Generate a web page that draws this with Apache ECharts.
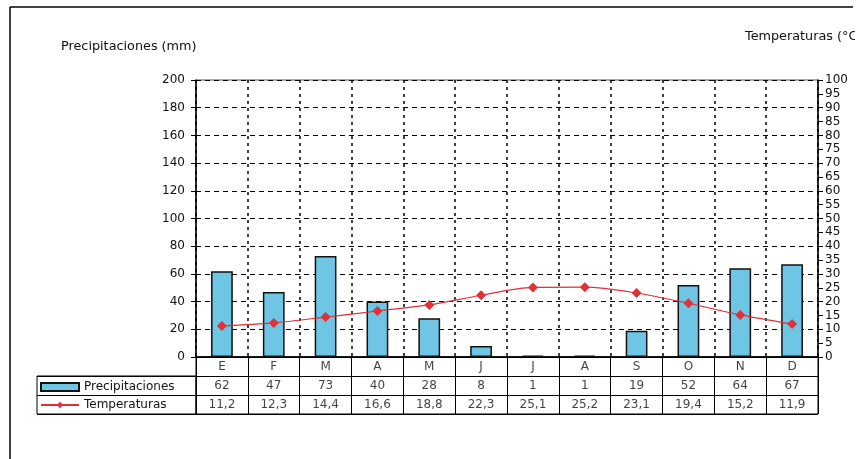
<!DOCTYPE html>
<html><head><meta charset="utf-8">
<script src="https://cdn.jsdelivr.net/npm/echarts@6/dist/echarts.min.js"></script>
<style>html,body{margin:0;padding:0;background:#fff}#c{width:867px;height:459px}</style>
</head><body><div id="c"></div>
<script>
var months = ['E','F','M','A','M','J','J','A','S','O','N','D'];
var precip = [62,47,73,40,28,8,1,1,19,52,64,67];
var temps = [11.2,12.3,14.4,16.6,18.8,22.3,25.1,25.2,23.1,19.4,15.2,11.9];
var leftTicks = {min:0, max:200, interval:20};
var rightTicks = {min:0, max:100, interval:5};
var rowNames = ['mes','Precipitaciones','Temperaturas'];

var FONT = 'DejaVu Sans, Verdana, sans-serif';
var cells = [];
months.forEach(function(m,i){ cells.push({value:[i,0], txt:m}); });
precip.forEach(function(v,i){ cells.push({value:[i,1], txt:String(v)}); });
temps.forEach(function(v,i){ cells.push({value:[i,2], txt:v.toFixed(1).replace('.',',')}); });

var chart = echarts.init(document.getElementById('c'));
chart.setOption({
  animation:false,
  backgroundColor:'#fff',
  textStyle:{fontFamily:FONT},
  title:[
    {text:'Precipitaciones (mm)', left:56, top:35, textStyle:{fontSize:12.8, fontWeight:'normal', color:'#111', fontFamily:FONT}},
    {text:'Temperaturas (°C)', left:740, top:25, textStyle:{fontSize:12.8, fontWeight:'normal', color:'#111', fontFamily:FONT}}
  ],
  legend:{
    orient:'vertical', left:35, top:376, itemGap:6, itemWidth:38, itemHeight:8,
    textStyle:{fontSize:12, color:'#111', fontFamily:FONT},
    data:[{name:'Precipitaciones', icon:'rect'},{name:'Temperaturas'}]
  },
  graphic:[
    {type:'rect', shape:{x:855,y:0,width:12,height:459}, style:{fill:'#fff'}, z:100},
    {type:'line', shape:{x1:10,y1:7,x2:853,y2:7}, style:{stroke:'#000', lineWidth:1.5}, z:101},
    {type:'line', shape:{x1:10,y1:7,x2:10,y2:459}, style:{stroke:'#000', lineWidth:1.5}, z:101}
  ],
  grid:[
    {left:196, right:49, top:80, bottom:102, show:true, borderColor:'#555', borderWidth:1},
    {left:196, right:49, top:357, height:57, show:true, borderColor:'#000', borderWidth:1},
    {left:37, width:159, top:376, height:38, show:true, borderColor:'#000', borderWidth:1}
  ],
  xAxis:[
    {type:'category', gridIndex:0, data:months, boundaryGap:true,
     axisLine:{lineStyle:{color:'#000', width:1.5}}, axisTick:{show:false}, axisLabel:{show:false},
     splitLine:{show:true, lineStyle:{color:'#000', type:[3,4], width:1.5}}},
    {type:'category', gridIndex:1, data:months, boundaryGap:true,
     axisLine:{show:false}, axisTick:{show:false}, axisLabel:{show:false},
     splitLine:{show:true, lineStyle:{color:'#000', width:1}}},
    {type:'value', gridIndex:2, show:false, min:0, max:1}
  ],
  yAxis:[
    {type:'value', gridIndex:0, min:leftTicks.min, max:leftTicks.max, interval:leftTicks.interval,
     axisLine:{show:true, lineStyle:{color:'#000', width:1.5}},
     axisTick:{show:true, length:5, lineStyle:{color:'#000'}},
     axisLabel:{fontSize:12, color:'#111', margin:11, fontFamily:FONT},
     splitLine:{show:true, lineStyle:{color:'#000', type:[5,4], width:1}}},
    {type:'value', gridIndex:0, position:'right', min:rightTicks.min, max:rightTicks.max, interval:rightTicks.interval,
     axisLine:{show:true, lineStyle:{color:'#000', width:1.5}},
     axisTick:{show:true, length:5, lineStyle:{color:'#000'}},
     axisLabel:{fontSize:12, color:'#111', margin:7, fontFamily:FONT},
     splitLine:{show:false}},
    {type:'category', gridIndex:1, data:rowNames, inverse:true, boundaryGap:true,
     axisLine:{show:false}, axisTick:{show:false}, axisLabel:{show:false},
     splitLine:{show:true, lineStyle:{color:'#000', width:1}}},
    {type:'category', gridIndex:2, data:['Precipitaciones','Temperaturas'], inverse:true, boundaryGap:true,
     axisLine:{show:false}, axisTick:{show:false}, axisLabel:{show:false},
     splitLine:{show:true, lineStyle:{color:'#000', width:1}}}
  ],
  series:[
    {name:'Precipitaciones', type:'bar', xAxisIndex:0, yAxisIndex:0, data:precip, barWidth:'42%',
     itemStyle:{color:'#6EC6E4', borderColor:'#111', borderWidth:1.5}},
    {name:'Temperaturas', type:'line', xAxisIndex:0, yAxisIndex:1, data:temps, smooth:0.3,
     symbol:'diamond', symbolSize:10,
     lineStyle:{color:'#E0303A', width:1.2}, itemStyle:{color:'#E0303A'}},
    {name:'tabla', type:'scatter', xAxisIndex:1, yAxisIndex:2, symbolSize:0, silent:true,
     data:cells.map(function(c){ return {value:c.value, label:{formatter:c.txt}}; }),
     label:{show:true, position:'inside', fontSize:12, color:'#111', fontFamily:FONT}}
  ]
});
</script></body></html>
